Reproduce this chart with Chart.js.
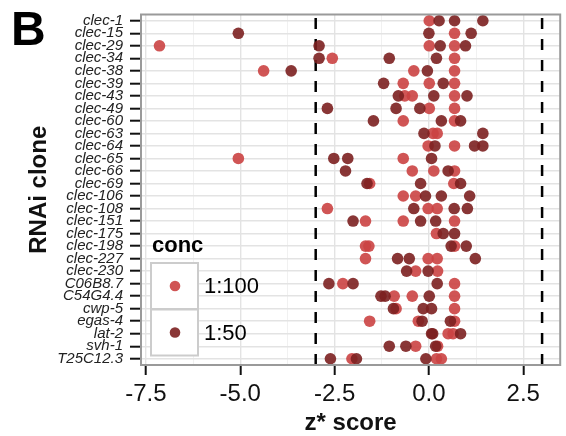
<!DOCTYPE html>
<html>
<head>
<meta charset="utf-8">
<script src="https://cdn.jsdelivr.net/npm/chart.js@4.4.1/dist/chart.umd.min.js"></script>
<style>
  html, body { margin: 0; padding: 0; background: #fff; }
</style>
</head>
<body>
<canvas id="chart" width="566" height="436"></canvas>
<script>
// RNAi clones, top to bottom
const clones = ['clec-1', 'clec-15', 'clec-29', 'clec-34', 'clec-38', 'clec-39', 'clec-43',
  'clec-49', 'clec-60', 'clec-63', 'clec-64', 'clec-65', 'clec-66', 'clec-69', 'clec-106',
  'clec-108', 'clec-151', 'clec-175', 'clec-198', 'clec-227', 'clec-230', 'C06B8.7',
  'C54G4.4', 'cwp-5', 'egas-4', 'lat-2', 'svh-1', 'T25C12.3'];

// z* scores per clone, concentration 1:100
const conc100 = [
  [0.01], [0.68], [-7.14, 0.01, 0.68], [-2.56, 0.68], [-4.38, -0.40, 0.68],
  [-0.68, 0.01, 0.68], [-0.64, -0.44, 0.68], [0.01, 0.68], [-0.68, 0.68], [0.11, 0.22],
  [-0.02, 0.68], [-5.05, -0.68], [-0.44, 0.13, 0.68], [-1.57, 0.66], [-0.68, -0.35],
  [-2.69, -0.02, 0.22], [-1.68, -0.68, 0.68], [0.20], [-1.68, -1.59, 0.68],
  [-1.68, -0.02, 0.22], [-0.35, 0.23], [-2.28, 0.68], [-0.92, -0.44, 0.68], [-0.87, 0.68],
  [-1.57, -0.28, 0.68], [0.51, 0.64], [-0.35, 0.23], [-2.04, 0.20, 0.33]
];

// z* scores per clone, concentration 1:50
const conc50 = [
  [0.27, 0.68, 1.43], [-5.05, 0.0, 1.12], [-2.91, 0.30, 0.97], [-2.91, -1.05, 0.20],
  [-3.65, -0.04], [-1.20, 0.38], [-0.81, 0.13, 1.01], [-2.69, -0.87, -0.24],
  [-1.47, 0.33, 0.84], [-0.13, 1.43], [0.16, 1.21, 1.43], [-2.52, -2.15, 0.07],
  [-2.21, 0.51], [-1.64, -0.22, 0.84], [-0.09, 0.33, 1.08], [-0.40, 0.67, 1.02],
  [-2.01, -0.22, 0.18], [0.38, 0.68], [0.59, 0.99], [-0.83, -0.52, 1.23], [-0.59, -0.02],
  [-2.65, -2.01, 0.22], [-1.27, -1.16, 0.01], [-0.94, -0.15, 0.07], [-0.18, 0.57],
  [0.07, 0.10, 0.84], [-1.05, -0.61, 0.18], [-2.61, -1.92, -0.08]
];

const concNames = ['1:100', '1:50'];
const xTicks = [-7.5, -6.25, -5, -3.75, -2.5, -1.25, 0, 1.25, 2.5];
const xLabeled = [-7.5, -5, -2.5, 0, 2.5];
const cutoffs = [-3, 3];

const FONT = 'Liberation Sans';
const LIGHT = 'rgba(203, 66, 66, 0.9)';
const DARK = 'rgba(124, 32, 32, 0.9)';

function toPoints(rows) {
  return rows.flatMap((vals, i) => vals.map(v => ({ x: v, y: clones[i] })));
}

const isMajor = v => xLabeled.includes(v);

// dashed cut-off lines, panel border, custom legend and panel letter
const extras = {
  id: 'extras',
  beforeDatasetsDraw(chart) {
    const { ctx, chartArea: a, scales: { x } } = chart;
    ctx.save();
    ctx.strokeStyle = '#000';
    ctx.lineWidth = 2.5;
    ctx.setLineDash([11, 10]);
    cutoffs.forEach(c => {
      const px = x.getPixelForValue(c);
      ctx.beginPath();
      ctx.moveTo(px, a.bottom);
      ctx.lineTo(px, a.top);
      ctx.stroke();
    });
    ctx.restore();
  },
  afterDraw(chart) {
    const { ctx, chartArea: a } = chart;
    ctx.save();
    ctx.strokeStyle = '#9a9a9a';
    ctx.lineWidth = 2;
    ctx.strokeRect(a.left, a.top, a.right - a.left, a.bottom - a.top);

    // legend
    ctx.fillStyle = '#000';
    ctx.font = 'bold 22px "' + FONT + '"';
    ctx.textBaseline = 'alphabetic';
    ctx.fillText('conc', 152, 252);
    chart.data.datasets.forEach((ds, i) => {
      const top = 263 + i * 46.5;
      ctx.fillStyle = '#fff';
      ctx.fillRect(151, top, 47, 46);
      ctx.strokeStyle = '#cccccc';
      ctx.lineWidth = 2;
      ctx.strokeRect(151, top, 47, 46);
      ctx.fillStyle = ds.backgroundColor;
      ctx.beginPath();
      ctx.arc(175, top + 23, 5.3, 0, Math.PI * 2);
      ctx.fill();
      ctx.fillStyle = '#000';
      ctx.font = '22px "' + FONT + '"';
      ctx.textBaseline = 'middle';
      ctx.fillText(ds.label, 204, top + 24);
    });

    ctx.fillStyle = '#000';
    ctx.font = 'bold 48px "' + FONT + '"';
    ctx.textBaseline = 'alphabetic';
    ctx.fillText('B', 11, 45);
    ctx.restore();
  }
};

new Chart(document.getElementById('chart'), {
  type: 'scatter',
  data: {
    datasets: [
      { label: concNames[0], data: toPoints(conc100), backgroundColor: LIGHT, order: 2 },
      { label: concNames[1], data: toPoints(conc50), backgroundColor: DARK, order: 1 }
    ]
  },
  options: {
    responsive: false,
    animation: false,
    layout: { padding: { top: 9, right: 3, left: 0, bottom: 0 } },
    elements: { point: { radius: 5.8, borderWidth: 0, hoverRadius: 5.8 } },
    plugins: { legend: { display: false }, tooltip: { enabled: false } },
    scales: {
      x: {
        type: 'linear',
        min: -7.63,
        max: 3.48,
        afterBuildTicks: s => { s.ticks = xTicks.map(v => ({ value: v })); },
        afterFit: s => { s.height = 71; },
        border: { display: false },
        grid: {
          color: ctx => ctx.tick && isMajor(ctx.tick.value) ? '#e3e3e3' : '#f1f1f1',
          lineWidth: ctx => ctx.tick && isMajor(ctx.tick.value) ? 1.4 : 1,
          tickColor: ctx => ctx.tick && isMajor(ctx.tick.value) ? '#111' : 'rgba(0,0,0,0)',
          tickWidth: 2,
          tickLength: 10
        },
        ticks: {
          autoSkip: false,
          maxRotation: 0,
          padding: 5,
          color: '#111',
          font: { family: FONT, size: 24 },
          callback: v => isMajor(v) ? v.toFixed(1) : ''
        },
        title: {
          display: true,
          text: 'z* score',
          color: '#111',
          font: { family: FONT, size: 24, weight: 'bold', lineHeight: 1 },
          padding: { top: 0, bottom: 1 }
        }
      },
      y: {
        type: 'category',
        labels: clones,
        offset: true,
        afterFit: s => { s.width = 141; },
        border: { display: false },
        grid: {
          color: '#e3e3e3',
          lineWidth: 1.4,
          tickColor: '#111',
          tickWidth: 2,
          tickLength: 11
        },
        ticks: {
          autoSkip: false,
          padding: 7,
          color: '#222',
          font: { family: FONT, size: 15, style: 'italic', lineHeight: 1 }
        },
        title: {
          display: true,
          text: 'RNAi clone',
          color: '#111',
          font: { family: FONT, size: 24, weight: 'bold', lineHeight: 1.2 },
          padding: { top: 25, bottom: 0 }
        }
      }
    }
  },
  plugins: [extras]
});
</script>
</body>
</html>
